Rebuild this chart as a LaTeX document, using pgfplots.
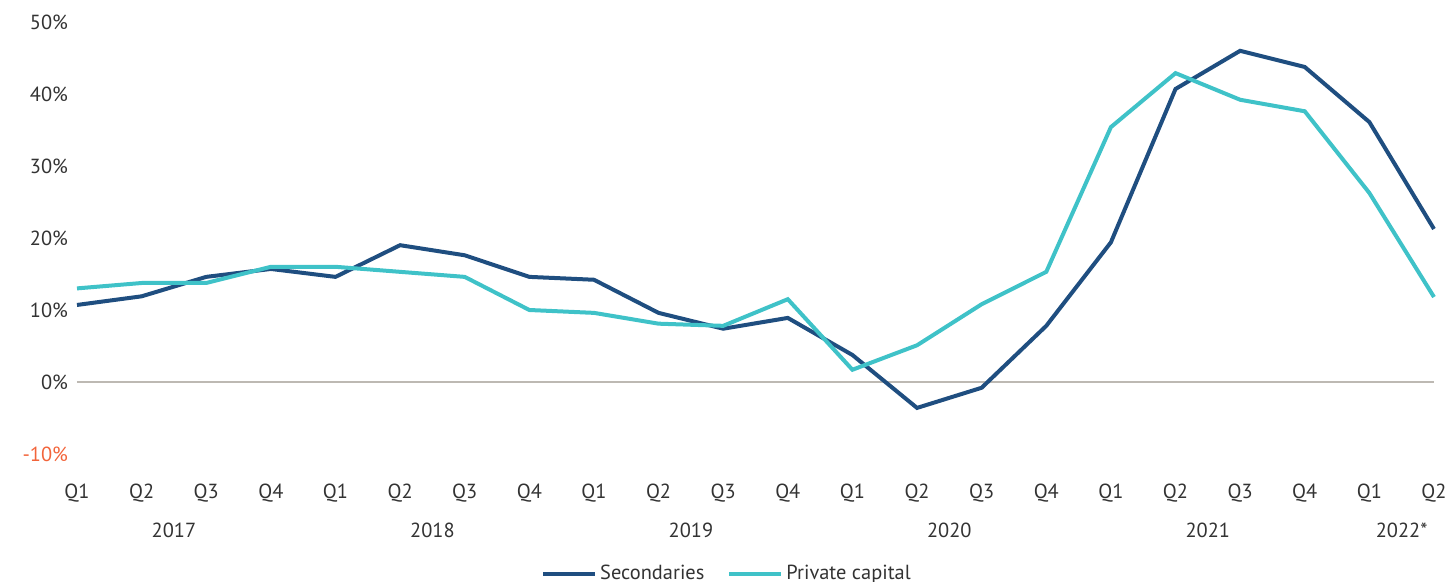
\documentclass[border=0pt]{standalone}
\usepackage{pgfplots}
\pgfplotsset{compat=1.18}
\usepackage{fontspec}
\setmainfont{PT Sans}
\definecolor{secblue}{HTML}{1F4E80}
\definecolor{privteal}{HTML}{3FC2C8}
\definecolor{zerogray}{HTML}{BDB9B3}
\definecolor{negred}{HTML}{F2643A}
\definecolor{txt}{HTML}{333333}
\begin{document}
\begin{tikzpicture}
\useasboundingbox (0,0) rectangle (726pt,291pt);
\begin{axis}[
  at={(38.5pt,64pt)}, anchor=south west,
  scale only axis, width=678.5pt, height=216pt,
  xmin=0, xmax=21, ymin=-10, ymax=50,
  axis line style={draw=none},
  tick style={draw=none},
  clip=false,
  font=\fontsize{10.2}{12}\selectfont\color{txt},
  ytick={-10,0,10,20,30,40,50},
  yticklabels={{\color{negred}-10\%},0\%,10\%,20\%,30\%,40\%,50\%},
  yticklabel style={anchor=east, xshift=-1pt},
  xtick={0,...,21},
  xticklabels={Q1,Q2,Q3,Q4,Q1,Q2,Q3,Q4,Q1,Q2,Q3,Q4,Q1,Q2,Q3,Q4,Q1,Q2,Q3,Q4,Q1,Q2},
  xticklabel style={anchor=center, yshift=-19.5pt},
  legend columns=2,
  legend style={at={(0.5,0)}, anchor=north, xshift=-14pt, yshift=-51.5pt, draw=none, fill=none,
    font=\fontsize{10.2}{12}\selectfont\color{txt},
    nodes={inner xsep=1.5pt},
    /tikz/every even column/.append style={column sep=10pt}},
  legend image code/.code={\draw[#1, line width=2pt] (0pt,0pt) -- (26pt,0pt);},
]
\addplot[zerogray, line width=0.6pt, forget plot] coordinates {(0,0) (21,0)};
\addplot[secblue, line width=2pt] coordinates {
(0,10.7) (1,11.9) (2,14.6) (3,15.7) (4,14.6) (5,19.0) (6,17.6) (7,14.6)
(8,14.2) (9,9.6) (10,7.4) (11,8.9) (12,3.75) (13,-3.6) (14,-0.8) (15,7.8)
(16,19.4) (17,40.7) (18,46.0) (19,43.75) (20,36.1) (21,21.25)};
\addlegendentry{Secondaries}
\addplot[privteal, line width=2pt] coordinates {
(0,13.0) (1,13.75) (2,13.75) (3,16.0) (4,16.0) (5,15.3) (6,14.6) (7,10.0)
(8,9.6) (9,8.1) (10,7.8) (11,11.5) (12,1.7) (13,5.1) (14,10.8) (15,15.3)
(16,35.4) (17,42.9) (18,39.2) (19,37.6) (20,26.25) (21,11.8)};
\addlegendentry{Private capital}
\foreach \xx/\yy in {1.5/2017,5.5/2018,9.5/2019,13.5/2020,17.5/2021,20.5/2022*}{
  \edef\tmp{\noexpand\node[anchor=center, font=\noexpand\fontsize{10.2}{12}\noexpand\selectfont, text=txt] at (axis cs:\xx,-10) [yshift=-38pt] {\yy};}
  \tmp
}
\end{axis}
\end{tikzpicture}
\end{document}
